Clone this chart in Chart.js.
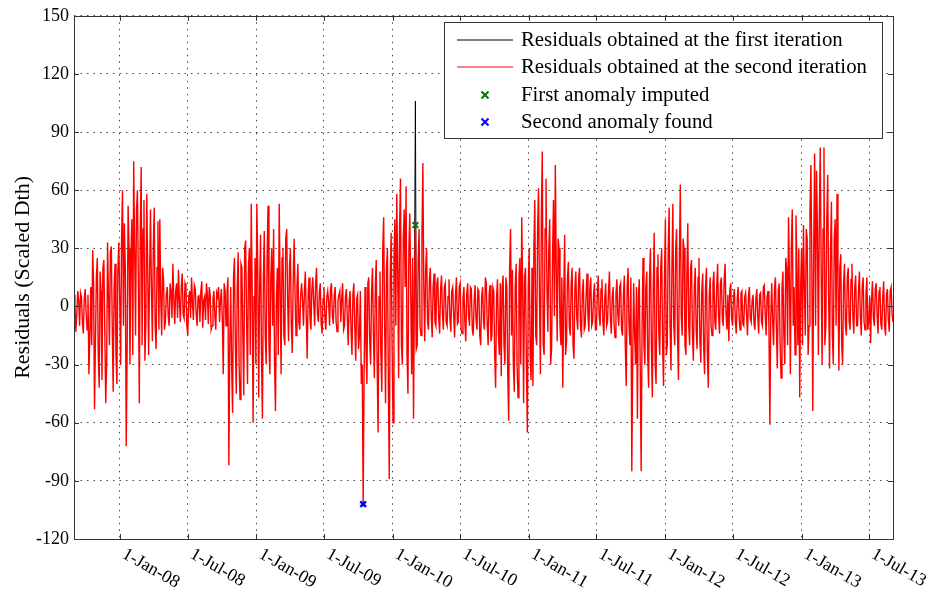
<!DOCTYPE html>
<html>
<head>
<meta charset="utf-8">
<script src="https://cdn.jsdelivr.net/npm/chart.js@4.4.0/dist/chart.umd.min.js"></script>
<style>
html, body { margin: 0; padding: 0; background: #fff; }
#wrap { width: 938px; height: 605px; }
</style>
</head>
<body>
<div id="wrap"><canvas id="chart" width="938" height="605"></canvas></div>
<script>
// 时间轴：起止日期与采样步长（天）
const startDate = '2007-08-31';
const endDate = '2013-09-03';
const stepDays = 2.5;

// x 轴刻度
const tickDates = ['2008-01-01', '2008-07-01', '2009-01-01', '2009-07-01', '2010-01-01', '2010-07-01',
    '2011-01-01', '2011-07-01', '2012-01-01', '2012-07-01', '2013-01-01', '2013-07-01'];
const tickLabels = ['1-Jan-08', '1-Jul-08', '1-Jan-09', '1-Jul-09', '1-Jan-10', '1-Jul-10',
    '1-Jan-11', '1-Jul-11', '1-Jan-12', '1-Jul-12', '1-Jan-13', '1-Jul-13'];

// y 轴范围
const yMin = -120;
const yMax = 150;
const yStep = 30;

// 第二次迭代残差（每 2.5 天一个值，按段存放）
const res2007b = [6, 2, -13, -4, 8, 3, -10, 7, 5, -8, -14, 4, 9, -3, -12, 6, -35, -15, 10, -20,
    29, 12, -53, -18, 15, 25, -25, -42, 18, 8, -38, 20, 24, -12, -50, -30, 33, 5, -20, 28,
    31, -10, -44, 10, 22, -25, -40, 18, 33, 5, -30, 35, 60, -10, 43, 20, -72, -20, 52, 30,
    -30, 25, 45, -25, 75, 30, -15, 50, 60, 15, -50, 35, 72, -20, 40, 55, -28, -10, 58, 20];
const res2008a = [-25, 15, 50, 10, -18, 30, 51, -10, -22, 20, 44, -12, 45, 5, -15, 20, 14, -12, -8, 6,
    10, -5, -10, 12, 8, -6, 22, 4, -9, 8, 12, -6, 19, 3, -8, 10, 17, -4, -6, 12,
    10, -10, -15, 5, 8, -6, 15, 2, -7, 11, 9, -4, -10, 5, 6, -8, 8, 13, -11, 3,
    5, -7, 12, 6, -9, 10, 6, -12, -10, 4, 8, -5, -12, 7, 5, 10, -8, 3, 9, -6];
const res2008b = [-35, 12, 8, -10, 6, 15, -82, -20, 10, -30, -55, 15, 25, -20, -45, 10, 28, -30, -48, 22,
    20, -15, -46, 30, 34, -5, -40, 20, 30, -25, 53, 10, -60, 5, 25, -30, 53, 20, -47, 10,
    37, -25, -58, 15, 39, -15, -30, 25, 52, -20, -35, 15, 30, -10, 40, -30, -54, 5, 20, -25,
    53, 10, -35, 25, 30, -15, -20, 35, 40, 5, -18, 20, 30, -10, -24, 15, 35, 5, -15, 10];
const res2009a = [22, -8, -12, 6, 12, 3, -10, 8, 18, -5, -27, 5, 15, -6, -12, 9, 15, 2, -10, 12,
    20, -4, -8, 7, 12, -9, -14, 4, 10, -6, -12, 5, 8, 2, -10, 9, 12, -5, -9, 6,
    10, -8, -13, 3, 6, 8, -8, 4, 12, -12, -10, 5, 9, -6, -20, 3, 8, -12, -25, 6,
    12, -10, -28, 4, 6, -22, -15, 8, -40, -30, -102, -35, 10, -20, -40, 12, 15, -18, -30, 8];
const res2009b = [20, -15, -37, 10, 24, -30, -65, 5, 18, -25, -44, 30, 46, -10, -50, 20, 30, -40, -89, 15,
    38, -20, -60, 25, 45, -10, 58, 20, -37, 40, 66, -20, -30, 35, 50, 10, 62, -25, -45, 30,
    48, 5, -35, 25, -58, 15, 42, -22, -20, 25, 40, -10, -15, 35, 74, 10, -18, 20, 30, -8,
    -12, 14, 20, -5, -16, 10, 17, -8, -10, 12, 15, -6, -14, 9, 16, -4, -12, 10, 12, -8];
const res2010 = [-10, 5, 14, -6, -13, 8, 10, -4, -16, 6, 15, -9, -8, 10, 12, -12, -14, 4, 10, -8,
    -18, 6, 12, -5, -10, 10, 9, -12, -15, 3, 11, -7, -12, 9, 8, -15, -20, 5, 10, -8,
    -12, 15, 12, -10, -20, 6, 11, -18, -15, 10, 8, -25, -42, 5, 14, -15, -25, 12, -36, 10,
    16, -20, -30, 15, 10, -35, -59, 20, 40, -15, 19, -30, -44, 10, 22, -30, -47, 15, 25, -30];
const res2011a = [46, 10, -50, 15, 20, -30, -65, 10, 30, -25, -38, 20, -41, 30, 55, -15, -20, 40, 61, 5,
    -35, 45, 80, -20, -25, 40, 66, 10, -13, 30, 45, -30, -22, 25, 55, -5, 73, 20, -18, 35,
    30, -10, -20, 15, -42, 5, 37, -25, -18, 15, 23, -10, -15, 12, 20, -20, -27, 10, 18, -6,
    -12, 15, 20, -10, -16, 8, 14, -12, -10, 6, 17, -5, -13, 9, 15, -10, -8, 6, 12, -12];
const res2011b = [-12, 6, 16, -5, -10, 9, 14, -8, -15, 4, 12, -10, -8, 8, 18, -6, -14, 5, 10, -9,
    -16, 7, 14, -4, -10, 10, 12, -12, -15, 6, 16, -20, -41, 10, 20, -10, -20, 15, -85, -25,
    12, -15, -30, 10, -58, 5, 14, -30, -85, -10, 25, -20, -30, 10, 18, -25, -42, 15, 30, -20,
    -47, 10, 38, -30, -40, 20, 27, -15, -25, 20, 30, -20, -41, 15, 45, -25, -20, 30, 51, -10];
const res2012a = [-33, 20, 53, -10, -20, 30, 40, -15, -38, 25, 63, -5, -15, 35, 30, -20, -25, 15, 43, -10,
    -20, 20, 24, -15, -28, 10, 20, -12, -22, 15, 25, -18, -29, 8, 17, -20, -35, 10, 20, -25,
    -42, 5, 15, -10, -15, 12, 18, -8, -12, 10, 22, -5, -14, 12, 15, -6, -10, 14, 22, -4,
    -12, 6, -18, 8, 12, -6, -10, 5, 9, -8, -14, 4, 10, -5, -12, 7, 8, -9, -10, 5];
const res2012b = [7, -4, -15, 5, 10, -6, -8, 3, 6, -9, -12, 4, 9, -5, -14, 6, 7, -8, -10, 10,
    11, -4, -15, 5, 8, -10, -61, -5, 12, -8, -20, 10, 15, -12, -32, 8, 12, -20, -37, 10,
    18, -15, -30, 25, 20, -20, 46, 15, -35, 30, 50, -10, 10, -25, 47, 20, -20, 30, -47, 10,
    30, -20, 42, 10, -15, 40, 35, -25, -10, 50, 73, 20, -54, 30, 79, -10, 70, 40, -25, 45];
const res2013 = [82, 20, -30, 40, 82, -20, -10, 45, 68, 5, -32, 30, 54, -15, -30, 35, 45, -10, 58, 15,
    -33, 20, 27, -20, -30, 12, 22, -10, -15, 15, 20, -8, -12, 14, 22, -6, -14, 10, 16, -10,
    -10, 8, 18, -5, -15, 10, 15, -8, -12, 6, 15, -12, -8, 5, -19, 4, 13, -6, -10, 9,
    12, -5, -14, 8, 10, -9, -12, 5, 13, -10, -15, 6, 9, -7, -13, 8, 10, -4, -8];

// 异常点
const firstAnomalyDate = '2010-03-03';
const firstAnomalyImputed = 42;
const firstIterationPeak = 106;
const secondAnomalyDate = '2009-10-14';
const secondAnomalyValue = -102;

const legendLabels = [
    'Residuals obtained at the first iteration',
    'Residuals obtained at the second iteration',
    'First anomaly imputed',
    'Second anomaly found'
];

const FONT = '"Liberation Serif", "Times New Roman", serif';

function dayOf(dateStr) {
    return (Date.parse(dateStr) - Date.parse(startDate)) / 86400000;
}

const secondIteration = [].concat(res2007b, res2008a, res2008b, res2009a, res2009b, res2010,
    res2011a, res2011b, res2012a, res2012b, res2013);

// 第一次迭代与第二次只在异常点附近不同，其余部分被红线覆盖
const anomalyIndex = dayOf(firstAnomalyDate) / stepDays;
const firstIteration = secondIteration.map((v, i) => {
    if (i === anomalyIndex) return firstIterationPeak;
    return Math.abs(i - anomalyIndex) === 1 ? v : null;
});

const toPoints = arr => arr.map((v, i) => ({ x: i * stepDays, y: v }));
const tickDays = tickDates.map(dayOf);

// 画边框、内侧刻度、x 轴斜标签和图例
const matlabStyle = {
    id: 'matlabStyle',
    afterDraw(chart) {
        const { ctx, chartArea: a, scales } = chart;
        ctx.save();

        // 内侧刻度
        ctx.strokeStyle = '#333';
        ctx.lineWidth = 1;
        ctx.beginPath();
        tickDays.forEach(d => {
            const px = Math.round(scales.x.getPixelForValue(d)) + 0.5;
            ctx.moveTo(px, a.bottom); ctx.lineTo(px, a.bottom - 5);
            ctx.moveTo(px, a.top); ctx.lineTo(px, a.top + 5);
        });
        for (let v = yMin; v <= yMax; v += yStep) {
            const py = Math.round(scales.y.getPixelForValue(v)) + 0.5;
            ctx.moveTo(a.left, py); ctx.lineTo(a.left + 5, py);
            ctx.moveTo(a.right, py); ctx.lineTo(a.right - 5, py);
        }
        ctx.stroke();

        // 外框
        ctx.strokeRect(Math.round(a.left) + 0.5, Math.round(a.top) + 0.5,
            Math.round(a.right - a.left), Math.round(a.bottom - a.top));

        // x 轴标签（顺时针倾斜）
        ctx.fillStyle = '#000';
        ctx.font = '18px ' + FONT;
        ctx.textAlign = 'left';
        ctx.textBaseline = 'top';
        tickDays.forEach((d, i) => {
            const px = scales.x.getPixelForValue(d);
            ctx.save();
            ctx.translate(px + 8, a.bottom + 6);
            ctx.rotate(0.52);
            ctx.fillText(tickLabels[i], 0, 0);
            ctx.restore();
        });

        // 图例
        const lx = 444.5, ly = 22.5, lw = 438, lh = 116;
        ctx.fillStyle = '#fff';
        ctx.fillRect(lx, ly, lw, lh);
        ctx.strokeStyle = '#333';
        ctx.lineWidth = 1;
        ctx.strokeRect(lx, ly, lw, lh);
        const rows = [40, 67, 95, 122];
        ctx.strokeStyle = '#000000';
        ctx.beginPath(); ctx.moveTo(457, rows[0]); ctx.lineTo(513, rows[0]); ctx.stroke();
        ctx.strokeStyle = '#ff0000';
        ctx.beginPath(); ctx.moveTo(457, rows[1]); ctx.lineTo(513, rows[1]); ctx.stroke();
        const cross = (cx, cy, color) => {
            ctx.strokeStyle = color;
            ctx.lineWidth = 2;
            ctx.beginPath();
            ctx.moveTo(cx - 3.5, cy - 3.5); ctx.lineTo(cx + 3.5, cy + 3.5);
            ctx.moveTo(cx + 3.5, cy - 3.5); ctx.lineTo(cx - 3.5, cy + 3.5);
            ctx.stroke();
        };
        cross(485, rows[2], '#007a00');
        cross(485, rows[3], '#0000ff');
        ctx.fillStyle = '#000';
        ctx.font = '20.8px ' + FONT;
        ctx.textBaseline = 'middle';
        legendLabels.forEach((t, i) => ctx.fillText(t, 521, rows[i] + 1));

        ctx.restore();
    }
};

Chart.defaults.font.family = FONT;
Chart.defaults.font.size = 18;
Chart.defaults.color = '#000';

new Chart(document.getElementById('chart'), {
    type: 'line',
    data: {
        datasets: [
            {
                label: legendLabels[2],
                data: [{ x: dayOf(firstAnomalyDate), y: firstAnomalyImputed }],
                showLine: false,
                pointStyle: 'crossRot',
                pointRadius: 4,
                borderWidth: 2,
                borderColor: '#007a00',
                order: 0
            },
            {
                label: legendLabels[3],
                data: [{ x: dayOf(secondAnomalyDate), y: secondAnomalyValue }],
                showLine: false,
                pointStyle: 'crossRot',
                pointRadius: 4,
                borderWidth: 2.5,
                borderColor: '#0000ff',
                order: 0
            },
            {
                label: legendLabels[1],
                data: toPoints(secondIteration),
                borderColor: '#ff0000',
                borderWidth: 1.4,
                pointRadius: 0,
                tension: 0,
                order: 1
            },
            {
                label: legendLabels[0],
                data: toPoints(firstIteration),
                borderColor: '#000000',
                borderWidth: 1,
                pointRadius: 0,
                tension: 0,
                spanGaps: false,
                order: 2
            }
        ]
    },
    options: {
        responsive: false,
        animation: false,
        devicePixelRatio: 1,
        events: [],
        layout: { padding: { top: 12, right: 45, left: 0, bottom: 0 } },
        plugins: {
            legend: { display: false },
            tooltip: { enabled: false }
        },
        scales: {
            x: {
                type: 'linear',
                min: 0,
                max: dayOf(endDate),
                z: 1,
                afterBuildTicks: scale => { scale.ticks = tickDays.map(v => ({ value: v })); },
                afterFit: scale => { scale.height = 66; },
                ticks: { display: false },
                grid: { color: 'rgba(50,50,50,0.9)', drawTicks: false },
                border: { display: false, dash: [1.5, 5] }
            },
            y: {
                min: yMin,
                max: yMax,
                z: 1,
                afterFit: scale => { scale.width = 74; },
                ticks: { stepSize: yStep, padding: 5 },
                grid: { color: 'rgba(50,50,50,0.9)', drawTicks: false },
                border: { display: false, dash: [1.5, 5] },
                title: {
                    display: true,
                    text: 'Residuals (Scaled Dth)',
                    font: { size: 22 },
                    padding: { top: 10, bottom: 0 }
                }
            }
        }
    },
    plugins: [matlabStyle]
});
</script>
</body>
</html>
